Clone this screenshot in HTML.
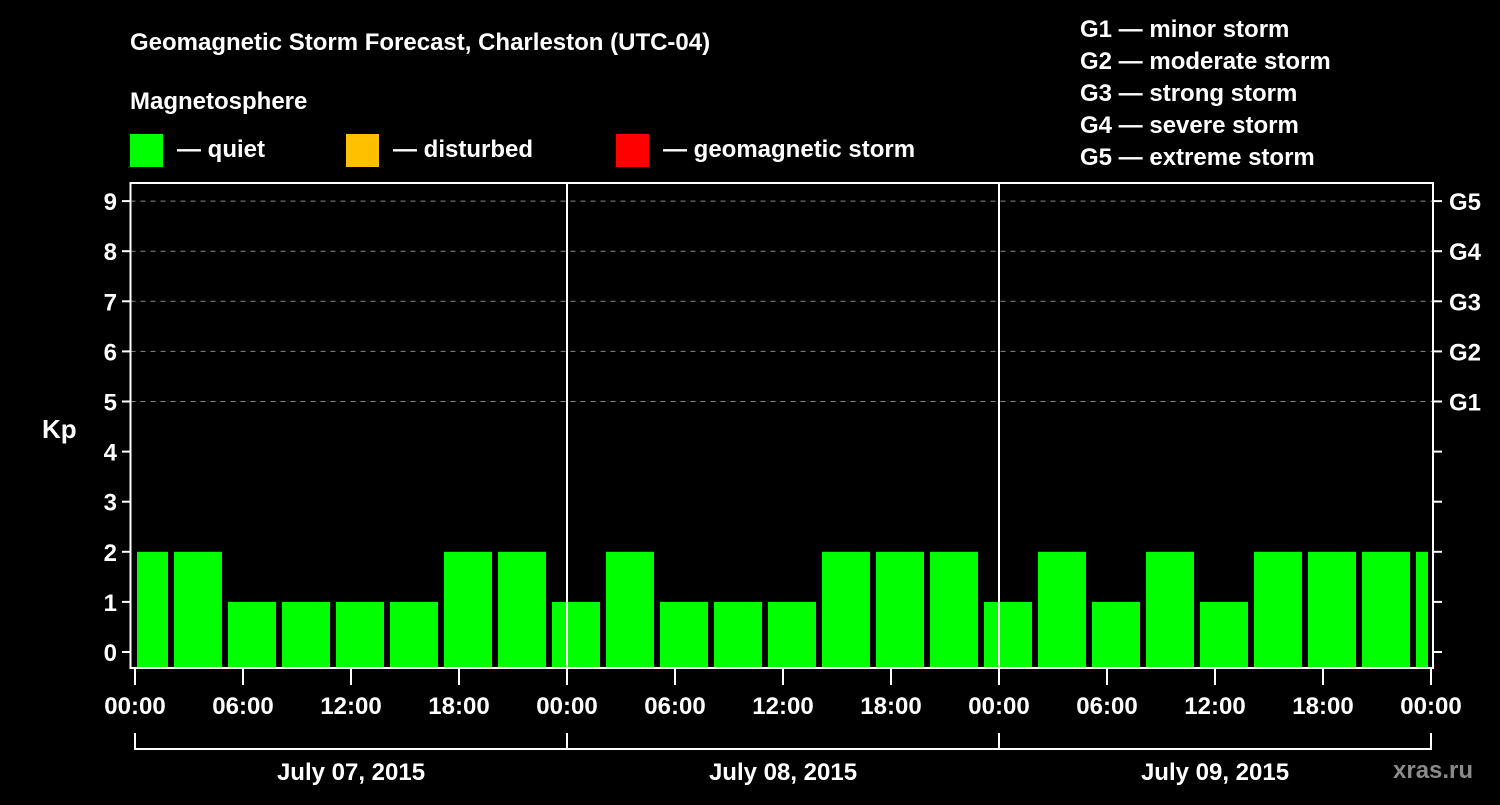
<!DOCTYPE html>
<html><head><meta charset="utf-8"><style>
body{margin:0;background:#000;}
svg text{font-family:"Liberation Sans",sans-serif;font-weight:bold;fill:#fff;}
</style></head><body>
<svg id="c" width="1500" height="800">
<text x="130" y="50" font-size="24">Geomagnetic Storm Forecast, Charleston (UTC-04)</text>
<text x="130" y="109" font-size="24">Magnetosphere</text>
<g><rect x="130" y="134" width="33" height="33" fill="#00ff00"/><text x="177" y="157" font-size="24">— quiet</text></g>
<g><rect x="346" y="134" width="33" height="33" fill="#ffc000"/><text x="393" y="157" font-size="24">— disturbed</text></g>
<g><rect x="616" y="134" width="33" height="33" fill="#ff0000"/><text x="663" y="157" font-size="24">— geomagnetic storm</text></g>
<g font-size="24">
<text x="1080" y="37">G1 — minor storm</text>
<text x="1080" y="69">G2 — moderate storm</text>
<text x="1080" y="101">G3 — strong storm</text>
<text x="1080" y="133">G4 — severe storm</text>
<text x="1080" y="165">G5 — extreme storm</text>
</g>
<text x="42" y="438" font-size="26">Kp</text>
<g id="grid"></g><g id="bars"></g><g id="axes"></g>
<text x="1393" y="778" font-size="24" fill="#888" style="fill:#8a8a8a">xras.ru</text>
</svg>
<script>
const values=[2,2,1,1,1,1,2,2,1,2,1,1,1,2,2,2,1,2,1,2,1,2,2,2,2];
const yTicks=[0,1,2,3,4,5,6,7,8,9];
const gLabels=["G1","G2","G3","G4","G5"];
const xLabels=["00:00","06:00","12:00","18:00","00:00","06:00","12:00","18:00","00:00","06:00","12:00","18:00","00:00"];
const days=["July 07, 2015","July 08, 2015","July 09, 2015"];
const NS="http://www.w3.org/2000/svg";
const L=130.5,R=1433,T=183,B=668,X0=135,PH=18;
const y=k=>652-50.1*k;
const x=h=>X0+PH*h;
function mk(t,a,p){const e=document.createElementNS(NS,t);for(const k in a)e.setAttribute(k,a[k]);(p||document.getElementById('c')).appendChild(e);return e;}
const grid=document.getElementById('grid'),bars=document.getElementById('bars'),axes=document.getElementById('axes');
for(let k=5;k<=9;k++){const g=mk('line',{x1:L,x2:R,y1:y(k),y2:y(k),stroke:'#888','stroke-dasharray':'5,5','stroke-width':1},grid);

}
values.forEach((v,i)=>{const c=x(0.5+3*i);let a=c-24,b=c+24;a=Math.max(a,137);b=Math.min(b,1428);
const r=mk('rect',{x:a,y:y(v),width:b-a,height:B-y(v),fill:v>=5?'#ff0000':(v>=4?'#ffc000':'#00ff00')},bars);

});
[1,2].forEach(d=>{const l=mk('line',{x1:x(24*d),x2:x(24*d),y1:T,y2:B,stroke:'#fff','stroke-width':2},axes);

});
const fr=mk('rect',{x:L,y:T,width:R-L,height:B-T,fill:'none',stroke:'#fff','stroke-width':2},axes);


yTicks.forEach(k=>{mk('line',{x1:122,x2:L,y1:y(k),y2:y(k),stroke:'#fff','stroke-width':2},axes);
mk('line',{x1:R,x2:1442,y1:y(k),y2:y(k),stroke:'#fff','stroke-width':2},axes);
const t=mk('text',{x:117,y:y(k)+9,'font-size':24,'text-anchor':'end'},axes);t.textContent=k;

});
gLabels.forEach((g,i)=>{const t=mk('text',{x:1449,y:y(5+i)+9,'font-size':24},axes);t.textContent=g;

});
xLabels.forEach((s,i)=>{const xx=x(6*i);mk('line',{x1:xx,x2:xx,y1:B,y2:685,stroke:'#fff','stroke-width':2},axes);
const t=mk('text',{x:xx,y:714,'font-size':24,'text-anchor':'middle'},axes);t.textContent=s;

});
mk('line',{x1:x(0),x2:x(72),y1:749,y2:749,stroke:'#fff','stroke-width':2},axes);
for(let d=0;d<=3;d++)mk('line',{x1:x(24*d),x2:x(24*d),y1:733,y2:750,stroke:'#fff','stroke-width':2},axes);
days.forEach((s,i)=>{const t=mk('text',{x:x(24*i+12),y:780,'font-size':24,'text-anchor':'middle'},axes);t.textContent=s;

});
</script>
</body></html>
